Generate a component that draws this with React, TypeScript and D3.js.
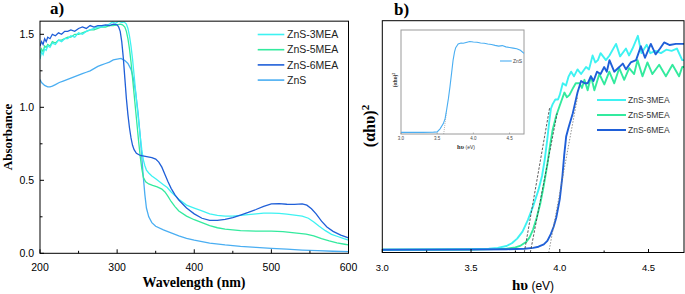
import React from "react";
import * as d3 from "d3";

type P = [number, number];

// ---------- Panel a) UV-Vis absorbance ----------
const absTicksX = [200, 300, 400, 500, 600];
const absMinorX = [250, 350, 450, 550];
const absTicksY = [0, 0.5, 1.0, 1.5];
const absMinorY = [0.25, 0.75, 1.25];

const abs3MEA: P[] = [[200,1.33],[202,1.38],[204,1.36],[206,1.40],[208,1.39],[210,1.42],[213,1.41],[216,1.44],[220,1.43],[224,1.46],[228,1.45],[232,1.47],[236,1.47],[240,1.49],[245,1.48],[250,1.51],[255,1.50],[260,1.52],[265,1.53],[270,1.54],[275,1.55],[280,1.55],[285,1.56],[290,1.57],[294,1.585],[298,1.575],[302,1.59],[306,1.58],[309,1.585],[312,1.57],[314,1.54],[316,1.49],[318,1.42],[320,1.33],[322,1.22],[324,1.11],[326,1.00],[328,0.90],[330,0.80],[332,0.71],[334,0.64],[336,0.60],[338,0.57],[341,0.55],[345,0.53],[350,0.51],[355,0.49],[360,0.47],[365,0.45],[370,0.42],[375,0.395],[380,0.37],[390,0.33],[400,0.31],[410,0.29],[420,0.27],[430,0.26],[440,0.255],[450,0.255],[460,0.26],[470,0.265],[480,0.27],[490,0.275],[500,0.275],[510,0.273],[520,0.268],[530,0.262],[540,0.255],[548,0.24],[555,0.215],[562,0.185],[570,0.155],[578,0.13],[586,0.115],[594,0.1],[600,0.09]];
const abs5MEA: P[] = [[200,1.37],[202,1.40],[204,1.38],[206,1.42],[208,1.41],[210,1.43],[213,1.42],[216,1.45],[220,1.44],[224,1.46],[228,1.46],[232,1.47],[236,1.48],[240,1.48],[245,1.50],[250,1.50],[255,1.51],[260,1.52],[265,1.53],[270,1.53],[275,1.54],[280,1.55],[285,1.55],[290,1.56],[295,1.56],[300,1.565],[304,1.57],[307,1.565],[310,1.55],[312,1.52],[314,1.47],[316,1.40],[318,1.31],[320,1.20],[322,1.09],[324,0.98],[326,0.87],[328,0.76],[330,0.66],[332,0.58],[334,0.52],[337,0.49],[341,0.475],[346,0.465],[352,0.455],[358,0.44],[362,0.42],[366,0.39],[370,0.355],[375,0.32],[380,0.29],[390,0.255],[400,0.23],[410,0.21],[420,0.19],[430,0.175],[440,0.165],[450,0.16],[460,0.155],[480,0.152],[500,0.152],[515,0.148],[530,0.14],[545,0.132],[555,0.12],[565,0.1],[575,0.085],[585,0.072],[595,0.062],[600,0.057]];
const abs6MEA: P[] = [[200,1.42],[202,1.45],[204,1.43],[206,1.47],[208,1.45],[210,1.48],[213,1.47],[216,1.50],[220,1.49],[224,1.51],[228,1.50],[232,1.52],[236,1.52],[240,1.53],[245,1.52],[250,1.54],[255,1.55],[260,1.54],[265,1.56],[270,1.55],[275,1.56],[280,1.56],[285,1.565],[290,1.56],[295,1.57],[300,1.565],[302,1.55],[304,1.52],[306,1.45],[308,1.34],[310,1.20],[312,1.06],[314,0.95],[316,0.86],[318,0.79],[320,0.74],[322,0.71],[325,0.685],[330,0.67],[335,0.665],[340,0.66],[345,0.655],[350,0.645],[354,0.625],[358,0.59],[362,0.54],[366,0.49],[370,0.445],[375,0.40],[380,0.365],[390,0.31],[400,0.27],[410,0.24],[420,0.225],[430,0.225],[440,0.232],[450,0.245],[460,0.262],[470,0.28],[480,0.3],[490,0.322],[500,0.338],[510,0.34],[520,0.336],[530,0.335],[540,0.338],[546,0.33],[552,0.305],[558,0.27],[565,0.22],[572,0.18],[580,0.15],[590,0.125],[600,0.105]];
const absZnS: P[] = [[200,1.19],[202,1.17],[204,1.16],[206,1.15],[208,1.145],[210,1.14],[213,1.14],[216,1.145],[220,1.155],[225,1.17],[230,1.18],[235,1.19],[240,1.2],[245,1.21],[250,1.22],[255,1.23],[260,1.24],[265,1.25],[270,1.265],[275,1.28],[280,1.29],[285,1.30],[290,1.31],[295,1.325],[300,1.33],[305,1.335],[310,1.32],[314,1.30],[318,1.26],[321,1.2],[324,1.1],[327,0.97],[330,0.8],[332,0.66],[334,0.52],[336,0.40],[338,0.31],[341,0.25],[345,0.21],[350,0.185],[360,0.16],[370,0.14],[380,0.12],[390,0.103],[400,0.09],[420,0.07],[440,0.057],[460,0.047],[480,0.04],[500,0.034],[520,0.028],[540,0.022],[560,0.018],[580,0.014],[600,0.012]];

// ---------- Panel b) Tauc plot ----------
const taucTicksX = [3.0, 3.5, 4.0, 4.5];
const taucMinorX = [3.25, 3.75, 4.25];

const tauc3MEA: P[] = [[3.0,0.012],[3.3,0.013],[3.5,0.014],[3.6,0.016],[3.65,0.02],[3.7,0.028],[3.73,0.04],[3.76,0.06],[3.79,0.09],[3.82,0.14],[3.85,0.2],[3.88,0.27],[3.90,0.33],[3.915,0.40],[3.93,0.49],[3.94,0.56],[3.95,0.62],[3.96,0.64],[3.975,0.66],[3.99,0.66],[4.0,0.68],[4.017,0.73],[4.035,0.72],[4.05,0.76],[4.064,0.78],[4.08,0.76],[4.10,0.79],[4.12,0.77],[4.148,0.8],[4.165,0.79],[4.185,0.85],[4.2,0.82],[4.215,0.83],[4.23,0.86],[4.26,0.83],[4.28,0.85],[4.317,0.9],[4.34,0.846],[4.373,0.88],[4.39,0.85],[4.41,0.88],[4.44,0.935],[4.46,0.86],[4.49,0.896],[4.51,0.86],[4.54,0.87],[4.57,0.86],[4.6,0.875],[4.63,0.87],[4.66,0.88],[4.69,0.83],[4.7,0.83]];
const tauc5MEA: P[] = [[3.0,0.012],[3.5,0.013],[3.7,0.016],[3.75,0.022],[3.78,0.03],[3.81,0.045],[3.83,0.065],[3.85,0.1],[3.87,0.15],[3.89,0.21],[3.91,0.29],[3.93,0.38],[3.945,0.46],[3.96,0.53],[3.98,0.59],[3.998,0.63],[4.012,0.66],[4.026,0.69],[4.04,0.67],[4.055,0.68],[4.075,0.71],[4.09,0.73],[4.111,0.73],[4.125,0.71],[4.139,0.745],[4.157,0.70],[4.176,0.76],[4.195,0.70],[4.223,0.77],[4.251,0.725],[4.279,0.78],[4.307,0.73],[4.335,0.795],[4.363,0.745],[4.391,0.795],[4.419,0.77],[4.438,0.83],[4.466,0.76],[4.494,0.82],[4.522,0.77],[4.56,0.81],[4.598,0.76],[4.635,0.81],[4.672,0.76],[4.69,0.80],[4.7,0.80]];
const tauc6MEA: P[] = [[3.0,0.012],[3.5,0.013],[3.7,0.014],[3.8,0.016],[3.85,0.02],[3.88,0.025],[3.91,0.035],[3.93,0.05],[3.95,0.08],[3.965,0.11],[3.98,0.15],[3.99,0.19],[4.0,0.23],[4.015,0.33],[4.025,0.42],[4.036,0.5],[4.05,0.54],[4.073,0.6],[4.085,0.64],[4.1,0.69],[4.12,0.74],[4.14,0.73],[4.157,0.73],[4.175,0.76],[4.19,0.74],[4.21,0.78],[4.23,0.77],[4.25,0.8],[4.265,0.78],[4.28,0.83],[4.307,0.78],[4.335,0.8],[4.355,0.815],[4.373,0.79],[4.4,0.82],[4.43,0.83],[4.457,0.89],[4.48,0.84],[4.513,0.9],[4.54,0.855],[4.565,0.88],[4.588,0.906],[4.62,0.895],[4.654,0.9],[4.67,0.9],[4.69,0.9],[4.7,0.9]];

const tangent3MEA: P[] = [[3.80, 0], [3.943, 0.625]];
const tangent5MEA: P[] = [[3.834, 0], [3.985, 0.6]];
const tangent6MEA: P[] = [[3.938, 0], [4.10, 0.67]];

// ---------- Inset (ZnS Tauc plot) ----------
const insetTicksX = [3.0, 3.5, 4.0, 4.5];
const insetZnS: P[] = [[3.0,0.016],[3.3,0.016],[3.45,0.018],[3.5,0.02],[3.54,0.05],[3.585,0.1],[3.61,0.15],[3.63,0.23],[3.655,0.34],[3.677,0.455],[3.7,0.59],[3.72,0.71],[3.74,0.79],[3.756,0.83],[3.79,0.865],[3.83,0.875],[3.86,0.872],[3.9,0.88],[3.95,0.89],[4.0,0.885],[4.05,0.882],[4.1,0.875],[4.15,0.872],[4.2,0.865],[4.25,0.86],[4.3,0.852],[4.35,0.845],[4.4,0.85],[4.45,0.838],[4.5,0.832],[4.55,0.826],[4.6,0.82],[4.65,0.805],[4.7,0.775]];
const insetTangent: P[] = [[3.59, 0], [3.63, 0.22]];

const seriesNames = ["ZnS-3MEA", "ZnS-5MEA", "ZnS-6MEA", "ZnS"];
const colors: Record<string, string> = {
  "ZnS-3MEA": "#3ef2f2",
  "ZnS-5MEA": "#33ea9e",
  "ZnS-6MEA": "#1f5fd8",
  "ZnS": "#4aaef2",
};

const SANS = "'Liberation Sans', Arial, sans-serif";
const SERIF = "'Liberation Serif', 'Times New Roman', serif";

export default function App() {
  // panel a scales
  const xA = d3.scaleLinear().domain([200, 600]).range([40, 348.5]);
  const yA = d3.scaleLinear().domain([0, 1.5]).range([253.3, 34.3]);
  const aTop = yA(1.59);
  const lineA = d3.line<P>().x((d) => xA(d[0])).y((d) => yA(d[1]));
  const absData: Record<string, P[]> = {
    "ZnS-3MEA": abs3MEA,
    "ZnS-5MEA": abs5MEA,
    "ZnS-6MEA": abs6MEA,
    "ZnS": absZnS,
  };

  // panel b scales
  const xB = d3.scaleLinear().domain([3.0, 4.7]).range([382.3, 684]);
  const yB = d3.scaleLinear().domain([0, 1]).range([252.5, 20.7]);
  const lineB = d3.line<P>().x((d) => xB(d[0])).y((d) => yB(d[1]));
  const taucData: Record<string, P[]> = {
    "ZnS-3MEA": tauc3MEA,
    "ZnS-5MEA": tauc5MEA,
    "ZnS-6MEA": tauc6MEA,
  };

  // inset scales
  const xI = d3.scaleLinear().domain([3.0, 4.7]).range([401, 524]);
  const yI = d3.scaleLinear().domain([0, 1]).range([134, 30]);
  const lineI = d3.line<P>().x((d) => xI(d[0])).y((d) => yI(d[1]));

  const legendA = seriesNames;
  const legendB = seriesNames.slice(0, 3);

  return (
    <svg
      width={685}
      height={294}
      style={{ position: "absolute", left: 0, top: 0, background: "#fff" }}
    >
      <defs>
        <clipPath id="clipA">
          <rect x={xA(200)} y={aTop} width={xA(600) - xA(200)} height={yA(0) - aTop} />
        </clipPath>
        <clipPath id="clipB">
          <rect x={xB(3)} y={yB(1)} width={xB(4.7) - xB(3)} height={yB(0) - yB(1)} />
        </clipPath>
      </defs>

      {/* ---------- Panel a ---------- */}
      <text x={50} y={14} fontFamily={SERIF} fontWeight="bold" fontSize={17}>a)</text>
      <g clipPath="url(#clipA)" fill="none">
        {["ZnS", "ZnS-5MEA", "ZnS-3MEA", "ZnS-6MEA"].map((k) => (
          <path key={k} d={lineA(absData[k]) || ""} stroke={colors[k]} strokeWidth={1.3} />
        ))}
      </g>
      <rect
        x={xA(200)}
        y={aTop}
        width={xA(600) - xA(200)}
        height={yA(0) - aTop}
        fill="none"
        stroke="#000"
        strokeWidth={1}
      />
      {absTicksX.map((t) => (
        <g key={"ax" + t}>
          <line x1={xA(t)} x2={xA(t)} y1={yA(0)} y2={yA(0) - 4} stroke="#000" />
          <text x={xA(t)} y={271} textAnchor="middle" fontFamily={SANS} fontSize={10.5}>
            {t}
          </text>
        </g>
      ))}
      {absMinorX.map((t) => (
        <line key={"amx" + t} x1={xA(t)} x2={xA(t)} y1={yA(0)} y2={yA(0) - 2.5} stroke="#000" />
      ))}
      {absTicksY.map((t) => (
        <g key={"ay" + t}>
          <line x1={xA(200)} x2={xA(200) + 4} y1={yA(t)} y2={yA(t)} stroke="#000" />
          <text x={34} y={yA(t)} dy="0.35em" textAnchor="end" fontFamily={SANS} fontSize={10.5}>
            {t.toFixed(1)}
          </text>
        </g>
      ))}
      {absMinorY.map((t) => (
        <line key={"amy" + t} x1={xA(200)} x2={xA(200) + 2.5} y1={yA(t)} y2={yA(t)} stroke="#000" />
      ))}
      <text x={194} y={287} textAnchor="middle" fontFamily={SERIF} fontWeight="bold" fontSize={14}>
        Wavelength (nm)
      </text>
      <text
        transform="translate(12,137) rotate(-90)"
        textAnchor="middle"
        fontFamily={SERIF}
        fontWeight="bold"
        fontSize={13}
      >
        Absorbance
      </text>
      {legendA.map((k, i) => {
        const y = 34.5 + i * 15.2;
        return (
          <g key={"la" + k}>
            <line x1={257.7} x2={284.3} y1={y} y2={y} stroke={colors[k]} strokeWidth={1.6} />
            <text x={287} y={y} dy="0.35em" fontFamily={SANS} fontSize={10.5} fill="#222">
              {k}
            </text>
          </g>
        );
      })}

      {/* ---------- Panel b ---------- */}
      <text x={394} y={15} fontFamily={SERIF} fontWeight="bold" fontSize={17}>b)</text>
      <g clipPath="url(#clipB)" fill="none">
        {["ZnS-5MEA", "ZnS-3MEA", "ZnS-6MEA"].map((k) => (
          <path key={k} d={lineB(taucData[k]) || ""} stroke={colors[k]} strokeWidth={1.9} strokeLinejoin="round" />
        ))}
        <path d={lineB(tangent3MEA) || ""} stroke="#333" strokeWidth={0.8} strokeDasharray="2.5,1.5" />
        <path d={lineB(tangent5MEA) || ""} stroke="#333" strokeWidth={0.8} strokeDasharray="2.5,1.5" />
        <path d={lineB(tangent6MEA) || ""} stroke="#777" strokeWidth={0.8} strokeDasharray="1.5,1.5" />
      </g>
      <rect
        x={xB(3)}
        y={yB(1)}
        width={xB(4.7) - xB(3)}
        height={yB(0) - yB(1)}
        fill="none"
        stroke="#000"
        strokeWidth={1}
      />
      {taucTicksX.map((t) => (
        <g key={"bx" + t}>
          <line x1={xB(t)} x2={xB(t)} y1={yB(0)} y2={yB(0) - 3.5} stroke="#000" />
          <text x={xB(t)} y={271} textAnchor="middle" fontFamily={SANS} fontSize={9.5}>
            {t.toFixed(1)}
          </text>
        </g>
      ))}
      {taucMinorX.map((t) => (
        <line key={"bmx" + t} x1={xB(t)} x2={xB(t)} y1={yB(0)} y2={yB(0) - 2} stroke="#000" />
      ))}
      <text x={533} y={289.5} textAnchor="middle">
        <tspan fontFamily={SERIF} fontWeight="bold" fontSize={15}>hυ</tspan>
        <tspan fontFamily={SANS} fontSize={12}> (eV)</tspan>
      </text>
      <text
        transform="translate(375,126) rotate(-90)"
        textAnchor="middle"
        fontFamily={SERIF}
        fontWeight="bold"
        fontSize={16}
      >
        (αhυ)
        <tspan fontSize={11} dy="-6">2</tspan>
      </text>
      {legendB.map((k, i) => {
        const y = 100 + i * 15;
        return (
          <g key={"lb" + k}>
            <line x1={597} x2={626} y1={y} y2={y} stroke={colors[k]} strokeWidth={2} />
            <text x={628} y={y} dy="0.35em" fontFamily={SANS} fontSize={8.5} fill="#333">
              {k}
            </text>
          </g>
        );
      })}

      {/* ---------- Inset ---------- */}
      <rect x={xI(3)} y={yI(1)} width={xI(4.7) - xI(3)} height={yI(0) - yI(1)} fill="#fff" stroke="#9a9a9a" strokeWidth={1} />
      <path d={lineI(insetTangent) || ""} fill="none" stroke="#888" strokeWidth={0.6} strokeDasharray="1,1" />
      <path d={lineI(insetZnS) || ""} fill="none" stroke={colors["ZnS"]} strokeWidth={1.1} />
      {insetTicksX.map((t) => (
        <g key={"ix" + t}>
          <line x1={xI(t)} x2={xI(t)} y1={yI(0)} y2={yI(0) - 1.5} stroke="#888" strokeWidth={0.6} />
          <text x={xI(t)} y={139.5} textAnchor="middle" fontFamily={SANS} fontSize={4.5} fill="#444">
            {t.toFixed(1)}
          </text>
        </g>
      ))}
      <line x1={500} x2={511.7} y1={61} y2={61} stroke={colors["ZnS"]} strokeWidth={1.1} />
      <text x={513} y={61} dy="0.35em" fontFamily={SANS} fontSize={5} fill="#444">ZnS</text>
      <text x={466} y={149} textAnchor="middle" fill="#333">
        <tspan fontFamily={SERIF} fontWeight="bold" fontSize={6.5}>hυ</tspan>
        <tspan fontFamily={SANS} fontSize={5}> (eV)</tspan>
      </text>
      <text
        transform="translate(397,80) rotate(-90)"
        textAnchor="middle"
        fontFamily={SERIF}
        fontWeight="bold"
        fontSize={5.5}
        fill="#333"
      >
        (αhυ)
        <tspan fontSize={4} dy="-2.5">2</tspan>
      </text>
    </svg>
  );
}
